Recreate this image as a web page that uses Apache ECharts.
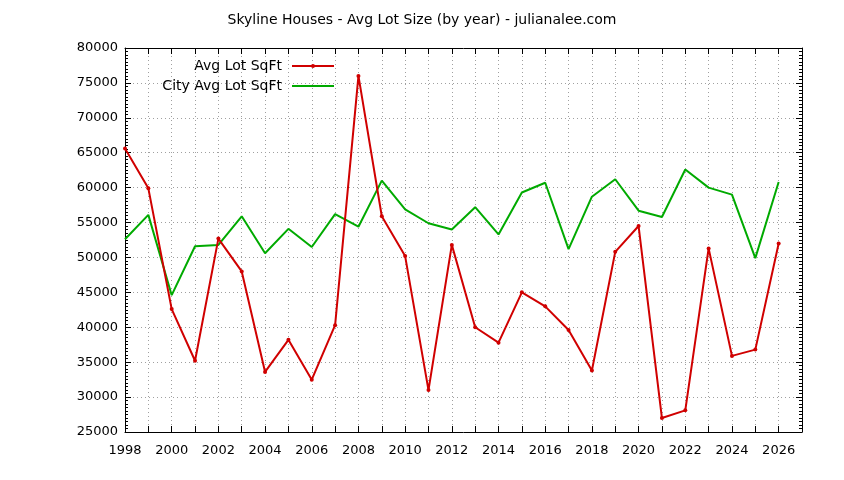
<!DOCTYPE html>
<html lang="en">
  <head>
    <meta charset="UTF-8" />
    <title>Skyline Houses - Avg Lot Size</title>
    <style>
      html, body { margin: 0; padding: 0; background: #fff; }
      #chart { width: 844px; height: 480px; }
    </style>
  </head>
  <body>
    <div id="chart"></div>
    <script src="https://cdn.jsdelivr.net/npm/echarts@6/dist/echarts.min.js"></script>
    <script>
      // data
      var years = [1998, 1999, 2000, 2001, 2002, 2003, 2004, 2005, 2006, 2007,
        2008, 2009, 2010, 2011, 2012, 2013, 2014, 2015, 2016, 2017,
        2018, 2019, 2020, 2021, 2022, 2023, 2024, 2025, 2026];
      var avgLot = [65600, 59900, 42600, 35200, 52700, 48000, 33600, 38200, 32500, 40300,
        76000, 55900, 50200, 31000, 51800, 40000, 37800, 45000, 43000, 39600,
        33800, 50800, 54500, 27000, 28100, 51300, 35900, 36800, 52000];
      var cityAvgLot = [52600, 56100, 44600, 51600, 51800, 55900, 50600, 54100, 51500, 56200,
        54400, 61000, 56900, 54900, 54000, 57200, 53300, 59300, 60700, 51200,
        58700, 61200, 56700, 55800, 62600, 60000, 59000, 49900, 60800];
      var yTicks = { min: 25000, max: 80000, step: 5000 };

      var font = "DejaVu Sans";
      var pair = function (xs, ys) {
        var res = [];
        for (var i = 0; i < xs.length; i++) res.push([xs[i], ys[i]]);
        return res;
      };

      var chart = echarts.init(document.getElementById("chart"));

      var gridLine = { show: true, lineStyle: { color: "#a0a0a0", type: [1, 3], width: 1 } };
      var baseX = {
        type: "value",
        min: 1998,
        max: 2027,
        interval: 1,
        axisLine: { show: true, onZero: false, lineStyle: { color: "#000", width: 1 } },
        axisTick: { show: true, inside: true, length: 6, lineStyle: { color: "#000" } },
        splitLine: { show: false },
      };
      var baseY = {
        type: "value",
        min: yTicks.min,
        max: yTicks.max,
        interval: yTicks.step,
        axisLine: { show: true, onZero: false, lineStyle: { color: "#000", width: 1 } },
        axisTick: { show: true, inside: true, length: 6, lineStyle: { color: "#000" } },
        minorTick: { show: true, splitNumber: 10, length: 3, lineStyle: { color: "#000" } },
        splitLine: { show: false },
      };

      // a bit more room between key text and its sample, like gnuplot
      var legendText = { fontFamily: font, fontSize: 14, color: "#000", padding: [0, 5, 0, 0] };

      var option = {
        animation: false,
        backgroundColor: "#fff",
        textStyle: { fontFamily: font },
        title: {
          text: "Skyline Houses - Avg Lot Size (by year) - julianalee.com",
          left: "center",
          top: 8,
          textStyle: { fontFamily: font, fontSize: 14, fontWeight: "normal", color: "#000" },
        },
        grid: { left: 125, right: 42, top: 48, bottom: 48 },
        // gnuplot style key: text first, sample on the right
        legend: [
          {
            data: ["Avg Lot SqFt"],
            right: 504,
            top: 54,
            align: "right",
            itemWidth: 42,
            itemHeight: 5,
            textStyle: legendText,
          },
          {
            data: [{ name: "City Avg Lot SqFt", itemStyle: { color: "rgba(0,0,0,0)", opacity: 0, borderWidth: 0 } }],
            right: 504,
            top: 74,
            align: "right",
            itemWidth: 42,
            itemHeight: 5,
            textStyle: legendText,
          },
        ],
        xAxis: [
          Object.assign({}, baseX, {
            position: "bottom",
            splitLine: gridLine,
            axisLabel: {
              fontFamily: font,
              fontSize: 13,
              color: "#000",
              margin: 12,
              formatter: function (v) { return v % 2 === 0 ? String(v) : ""; },
            },
          }),
          Object.assign({}, baseX, { position: "top", axisLabel: { show: false } }),
        ],
        yAxis: [
          Object.assign({}, baseY, {
            position: "left",
            splitLine: gridLine,
            axisLabel: {
              fontFamily: font,
              fontSize: 13,
              color: "#000",
              margin: 7,
              formatter: function (v) { return String(v); },
            },
          }),
          Object.assign({}, baseY, { position: "right", axisLabel: { show: false } }),
        ],
        series: [
          {
            name: "Avg Lot SqFt",
            type: "line",
            data: pair(years, avgLot),
            color: "#d00000",
            symbol: "circle",
            symbolSize: 4,
            lineStyle: { width: 2 },
            z: 3,
          },
          {
            name: "City Avg Lot SqFt",
            type: "line",
            data: pair(years, cityAvgLot),
            color: "#00aa00",
            symbol: "none",
            lineStyle: { width: 2 },
            z: 2,
          },
        ],
      };

      chart.setOption(option);
      window.onresize = function () {
        chart.resize();
      };
    </script>
  </body>
</html>
